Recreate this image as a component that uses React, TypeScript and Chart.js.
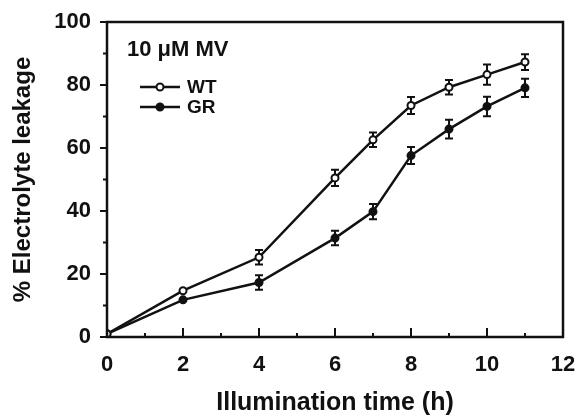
import React, { useEffect, useRef } from "react";
import { Chart, registerables } from "chart.js";

Chart.register(...registerables);

const hours = [0, 2, 4, 6, 7, 8, 9, 10, 11];
const wtLeakage = [1, 14.7, 25.3, 50.5, 62.6, 73.5, 79.3, 83.3, 87.3];
const wtError = [0.4, 0.8, 2.3, 2.6, 2.3, 2.7, 2.3, 3.2, 2.5];
const grLeakage = [1, 11.8, 17.3, 31.4, 39.8, 57.6, 66, 73.2, 79.1];
const grError = [0.4, 0.8, 2.3, 2.3, 2.4, 2.7, 3.0, 3.1, 2.9];

const xMajorTicks = [0, 2, 4, 6, 8, 10, 12];
const xMinorTicks = [1, 3, 5, 7, 9, 11];
const yMajorTicks = [0, 20, 40, 60, 80, 100];
const yMinorTicks = [10, 30, 50, 70, 90];

const legendTitle = "10 \u03bcM MV";
const seriesNames = ["WT", "GR"];
const xTitle = "Illumination time (h)";
const yTitle = "% Electrolyte leakage";

const FONT = "'Liberation Sans', Arial, sans-serif";
const INK = "#111";

const errorBars = [wtError, grError];

const framePlugin = {
  id: "framePlugin",
  beforeDatasetsDraw(chart: any) {
    const ctx = chart.ctx;
    const xs = chart.scales.x;
    const ys = chart.scales.y;
    ctx.save();
    ctx.strokeStyle = INK;
    ctx.lineWidth = 2;
    chart.data.datasets.forEach((ds: any, i: number) => {
      const errs = errorBars[i];
      ds.data.forEach((p: any, j: number) => {
        const e = errs[j];
        const px = xs.getPixelForValue(p.x);
        const y1 = ys.getPixelForValue(p.y + e);
        const y2 = ys.getPixelForValue(p.y - e);
        if (y2 - y1 < 9) return;
        ctx.beginPath();
        ctx.moveTo(px, y1);
        ctx.lineTo(px, y2);
        ctx.moveTo(px - 4, y1);
        ctx.lineTo(px + 4, y1);
        ctx.moveTo(px - 4, y2);
        ctx.lineTo(px + 4, y2);
        ctx.stroke();
      });
    });
    ctx.restore();
  },
  afterDraw(chart: any) {
    const ctx = chart.ctx;
    const { left, right, top, bottom } = chart.chartArea;
    const xs = chart.scales.x;
    const ys = chart.scales.y;
    ctx.save();
    ctx.strokeStyle = INK;
    ctx.lineWidth = 2.5;
    ctx.strokeRect(left, top, right - left, bottom - top);
    ctx.lineWidth = 2;
    ctx.beginPath();
    xMajorTicks.forEach((v) => {
      const px = xs.getPixelForValue(v);
      ctx.moveTo(px, bottom);
      ctx.lineTo(px, bottom - 9);
    });
    xMinorTicks.forEach((v) => {
      const px = xs.getPixelForValue(v);
      ctx.moveTo(px, bottom);
      ctx.lineTo(px, bottom - 4);
    });
    yMajorTicks.forEach((v) => {
      const py = ys.getPixelForValue(v);
      ctx.moveTo(left, py);
      ctx.lineTo(left - 7, py);
    });
    yMinorTicks.forEach((v) => {
      const py = ys.getPixelForValue(v);
      ctx.moveTo(left, py);
      ctx.lineTo(left - 4, py);
    });
    ctx.stroke();

    // legend
    ctx.fillStyle = INK;
    ctx.textAlign = "left";
    ctx.textBaseline = "middle";
    ctx.font = `bold 22px ${FONT}`;
    ctx.fillText(legendTitle, left + 20, top + 28);
    const rows = [top + 65, top + 85];
    chart.data.datasets.forEach((ds: any, i: number) => {
      const y = rows[i];
      ctx.strokeStyle = INK;
      ctx.lineWidth = 2.5;
      ctx.beginPath();
      ctx.moveTo(left + 33, y);
      ctx.lineTo(left + 73, y);
      ctx.stroke();
      ctx.beginPath();
      ctx.arc(left + 53, y, 3.5, 0, Math.PI * 2);
      ctx.fillStyle = ds.pointBackgroundColor;
      ctx.fill();
      ctx.lineWidth = 2;
      ctx.stroke();
      ctx.fillStyle = INK;
      ctx.font = `bold 19px ${FONT}`;
      ctx.fillText(seriesNames[i], left + 80, y + 1);
    });
    ctx.restore();
  },
};

export default function App() {
  const ref = useRef<HTMLCanvasElement>(null);
  useEffect(() => {
    if (!ref.current) return;
    const chart = new Chart(ref.current, {
      type: "line",
      data: {
        datasets: [
          {
            label: seriesNames[0],
            data: hours.map((h, i) => ({ x: h, y: wtLeakage[i] })),
            borderColor: INK,
            borderWidth: 2.5,
            pointRadius: 3.5,
            pointBorderWidth: 2,
            pointBackgroundColor: "#ffffff",
            pointBorderColor: INK,
            tension: 0,
          },
          {
            label: seriesNames[1],
            data: hours.map((h, i) => ({ x: h, y: grLeakage[i] })),
            borderColor: INK,
            borderWidth: 2.5,
            pointRadius: 3.5,
            pointBorderWidth: 2,
            pointBackgroundColor: INK,
            pointBorderColor: INK,
            tension: 0,
          },
        ],
      },
      options: {
        responsive: false,
        animation: false,
        layout: { padding: { top: 22, right: 15, left: 0, bottom: 0 } },
        plugins: { legend: { display: false }, tooltip: { enabled: false } },
        scales: {
          x: {
            type: "linear",
            min: 0,
            max: 12,
            grid: { display: false, drawTicks: false },
            border: { display: false },
            ticks: {
              stepSize: 2,
              color: INK,
              padding: 15,
              font: { family: FONT, size: 22, weight: "bold" },
              maxRotation: 0,
            },
            title: {
              display: true,
              text: xTitle,
              color: INK,
              font: { family: FONT, size: 25, weight: "bold", lineHeight: 1 },
              padding: { top: 0, bottom: 0 },
            },
            afterFit: (scale: any) => {
              scale.height = 79;
              scale.paddingLeft = 0;
              scale.paddingRight = 0;
            },
          },
          y: {
            min: 0,
            max: 100,
            grid: { display: false, drawTicks: false },
            border: { display: false },
            ticks: {
              stepSize: 20,
              color: INK,
              padding: 16,
              font: { family: FONT, size: 22, weight: "bold" },
            },
            title: {
              display: true,
              text: yTitle,
              color: INK,
              font: { family: FONT, size: 24, weight: "bold", lineHeight: 1 },
              padding: { top: 11, bottom: 0 },
            },
            afterFit: (scale: any) => {
              scale.width = 107;
              scale.paddingTop = 0;
              scale.paddingBottom = 0;
            },
          },
        },
      },
      plugins: [framePlugin],
    });
    return () => chart.destroy();
  }, []);
  return (
    <div style={{ position: "absolute", left: 0, top: 0, width: 578, height: 416, background: "#fff" }}>
      <canvas ref={ref} width={578} height={416} />
    </div>
  );
}
